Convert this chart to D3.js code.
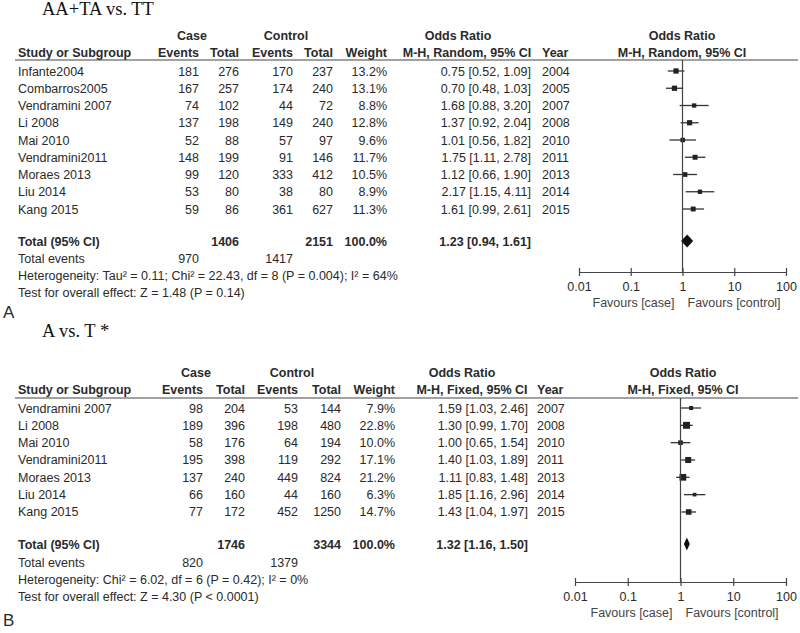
<!DOCTYPE html>
<html><head><meta charset="utf-8">
<script src="https://cdn.jsdelivr.net/npm/d3@7"></script>
<style>
html,body{margin:0;padding:0;background:#fff;}
svg text{font-family:"Liberation Sans",Arial,sans-serif;font-size:12.5px;fill:#2a2a2a;}
</style></head>
<body><svg id="chart" width="800" height="633"></svg>
<script>
// ---------- Panel A data (AA+TA vs. TT, random effects) ----------
const studiesA = ["Infante2004","Combarros2005","Vendramini 2007","Li 2008","Mai 2010","Vendramini2011","Moraes 2013","Liu 2014","Kang 2015"];
const caseEventsA = [181,167,74,137,52,148,99,53,59];
const caseTotalA = [276,257,102,198,88,199,120,80,86];
const ctrlEventsA = [170,174,44,149,57,91,333,38,361];
const ctrlTotalA = [237,240,72,240,97,146,412,80,627];
const weightA = [13.2,13.1,8.8,12.8,9.6,11.7,10.5,8.9,11.3];
const orA = [0.75,0.70,1.68,1.37,1.01,1.75,1.12,2.17,1.61];
const lowA = [0.52,0.48,0.88,0.92,0.56,1.11,0.66,1.15,0.99];
const highA = [1.09,1.03,3.20,2.04,1.82,2.78,1.90,4.11,2.61];
const yearA = [2004,2005,2007,2008,2010,2011,2013,2014,2015];
const totalA = {caseTotal:1406, ctrlTotal:2151, caseEvents:970, ctrlEvents:1417, or:1.23, low:0.94, high:1.61};

// ---------- Panel B data (A vs. T, fixed effects) ----------
const studiesB = ["Vendramini 2007","Li 2008","Mai 2010","Vendramini2011","Moraes 2013","Liu 2014","Kang 2015"];
const caseEventsB = [98,189,58,195,137,66,77];
const caseTotalB = [204,396,176,398,240,160,172];
const ctrlEventsB = [53,198,64,119,449,44,452];
const ctrlTotalB = [144,480,194,292,824,160,1250];
const weightB = [7.9,22.8,10.0,17.1,21.2,6.3,14.7];
const orB = [1.59,1.30,1.00,1.40,1.11,1.85,1.43];
const lowB = [1.03,0.99,0.65,1.03,0.83,1.16,1.04];
const highB = [2.46,1.70,1.54,1.89,1.48,2.96,1.97];
const yearB = [2007,2008,2010,2011,2013,2014,2015];
const totalB = {caseTotal:1746, ctrlTotal:3344, caseEvents:820, ctrlEvents:1379, or:1.32, low:1.16, high:1.50};

const tickValues = [0.01,0.1,1,10,100];
const tickLabels = ["0.01","0.1","1","10","100"];

const svg = d3.select("#chart");
const f2 = d3.format(".2f");
const ciText = (o,l,h) => `${f2(o)} [${f2(l)}, ${f2(h)}]`;

function panel(cfg){
  const g = svg.append("g");
  const C = cfg.cols;
  // title
  g.append("text").attr("x",42).attr("y",cfg.titleY)
    .style("font-family","'Liberation Serif','Times New Roman',serif").style("font-size","18.5px").style("fill","#111")
    .text(cfg.title);
  // header row 1
  const h1 = g.append("g").style("font-weight","bold");
  h1.append("text").attr("x",C.case).attr("y",cfg.h1Y).attr("text-anchor","middle").text("Case");
  h1.append("text").attr("x",C.control).attr("y",cfg.h1Y).attr("text-anchor","middle").text("Control");
  h1.append("text").attr("x",C.orMid).attr("y",cfg.h1Y).attr("text-anchor","middle").text("Odds Ratio");
  h1.append("text").attr("x",C.plotMid).attr("y",cfg.h1Y).attr("text-anchor","middle").text("Odds Ratio");
  // header row 2
  const h2 = g.append("g").style("font-weight","bold");
  h2.append("text").attr("x",18).attr("y",cfg.h2Y).text("Study or Subgroup");
  h2.append("text").attr("x",C.ce).attr("y",cfg.h2Y).attr("text-anchor","end").text("Events");
  h2.append("text").attr("x",C.ct).attr("y",cfg.h2Y).attr("text-anchor","end").text("Total");
  h2.append("text").attr("x",C.ke).attr("y",cfg.h2Y).attr("text-anchor","end").text("Events");
  h2.append("text").attr("x",C.kt).attr("y",cfg.h2Y).attr("text-anchor","end").text("Total");
  h2.append("text").attr("x",C.w).attr("y",cfg.h2Y).attr("text-anchor","end").text("Weight");
  h2.append("text").attr("x",C.orMH).attr("y",cfg.h2Y).attr("text-anchor","middle").text(cfg.method);
  h2.append("text").attr("x",C.year).attr("y",cfg.h2Y).text("Year");
  h2.append("text").attr("x",C.plotMid).attr("y",cfg.h2Y).attr("text-anchor","middle").text(cfg.method);
  // header rule
  g.append("line").attr("x1",15).attr("x2",798).attr("y1",cfg.lineY).attr("y2",cfg.lineY)
    .attr("stroke","#444").attr("stroke-width",1.2);

  const n = cfg.studies.length;
  const y = d3.scaleLinear().domain([0,n-1]).range([cfg.row0, cfg.row0 + (n-1)*cfg.rowH]);
  const x = d3.scaleLog().domain([0.01,100]).range(cfg.xRange);
  const idx = d3.range(n);
  const off = 4.5;
  const rows = g.selectAll("g.row").data(idx).join("g").attr("class","row");
  rows.append("text").attr("x",18).attr("y",i=>y(i)+off).text(i=>cfg.studies[i]);
  rows.append("text").attr("x",C.ce).attr("y",i=>y(i)+off).attr("text-anchor","end").text(i=>cfg.ce[i]);
  rows.append("text").attr("x",C.ct).attr("y",i=>y(i)+off).attr("text-anchor","end").text(i=>cfg.ct[i]);
  rows.append("text").attr("x",C.ke).attr("y",i=>y(i)+off).attr("text-anchor","end").text(i=>cfg.ke[i]);
  rows.append("text").attr("x",C.kt).attr("y",i=>y(i)+off).attr("text-anchor","end").text(i=>cfg.kt[i]);
  rows.append("text").attr("x",C.w).attr("y",i=>y(i)+off).attr("text-anchor","end").text(i=>cfg.w[i].toFixed(1)+"%");
  rows.append("text").attr("x",C.ci).attr("y",i=>y(i)+off).attr("text-anchor","end").text(i=>ciText(cfg.or[i],cfg.lo[i],cfg.hi[i]));
  rows.append("text").attr("x",C.year).attr("y",i=>y(i)+off).text(i=>cfg.yr[i]);

  // vertical line of no effect
  g.append("line").attr("x1",x(1)).attr("x2",x(1)).attr("y1",cfg.lineY).attr("y2",cfg.axisY)
    .attr("stroke","#444").attr("stroke-width",1.2);
  // CI lines and boxes
  rows.append("line").attr("x1",i=>x(cfg.lo[i])).attr("x2",i=>x(cfg.hi[i]))
    .attr("y1",i=>y(i)).attr("y2",i=>y(i)).attr("stroke","#333").attr("stroke-width",1.3);
  rows.append("rect").each(function(i){
    const s = Math.sqrt(cfg.w[i])*1.45;
    d3.select(this).attr("x",x(cfg.or[i])-s/2).attr("y",y(i)-s/2).attr("width",s).attr("height",s).attr("fill","#222");
  });

  // totals
  const T = cfg.total;
  const tb = g.append("g").style("font-weight","bold");
  tb.append("text").attr("x",18).attr("y",cfg.totalY+off).text("Total (95% CI)");
  tb.append("text").attr("x",C.ct).attr("y",cfg.totalY+off).attr("text-anchor","end").text(T.caseTotal);
  tb.append("text").attr("x",C.kt).attr("y",cfg.totalY+off).attr("text-anchor","end").text(T.ctrlTotal);
  tb.append("text").attr("x",C.w).attr("y",cfg.totalY+off).attr("text-anchor","end").text("100.0%");
  tb.append("text").attr("x",C.ci).attr("y",cfg.totalY+off).attr("text-anchor","end").text(ciText(T.or,T.low,T.high));
  const dh = 6.5;
  g.append("path").attr("fill","#111")
    .attr("d",`M${x(T.low)},${cfg.totalY}L${x(T.or)},${cfg.totalY-dh}L${x(T.high)},${cfg.totalY}L${x(T.or)},${cfg.totalY+dh}Z`);
  g.append("text").attr("x",18).attr("y",cfg.eventsY+off).text("Total events");
  g.append("text").attr("x",C.ce).attr("y",cfg.eventsY+off).attr("text-anchor","end").text(T.caseEvents);
  g.append("text").attr("x",C.ke).attr("y",cfg.eventsY+off).attr("text-anchor","end").text(T.ctrlEvents);
  g.append("text").attr("x",18).attr("y",cfg.hetY+off).text(cfg.het);
  g.append("text").attr("x",18).attr("y",cfg.testY+off).text(cfg.test);

  // axis
  const axis = d3.axisBottom(x).tickValues(tickValues).tickFormat((d,i)=>tickLabels[i]).tickSizeInner(4).tickSizeOuter(0);
  const ag = g.append("g").attr("transform",`translate(0,${cfg.axisY})`).call(axis);
  ag.select(".domain").attr("stroke","#444").attr("stroke-width",1.2);
  ag.selectAll(".tick line").attr("y1",-4).attr("y2",4).attr("stroke","#444").attr("stroke-width",1.2);
  ag.selectAll(".tick text").attr("y",19).attr("dy",0).style("font-size","12.5px").style("fill","#2a2a2a")
    .style("font-family","'Liberation Sans',Arial,sans-serif");
  g.append("text").attr("x",x(1)-8).attr("y",cfg.axisY+35).attr("text-anchor","end").style("fill","#444").text("Favours [case]");
  g.append("text").attr("x",x(1)+5).attr("y",cfg.axisY+35).style("fill","#444").text("Favours [control]");
  // panel letter
  g.append("text").attr("x",3).attr("y",cfg.letterY).style("font-size","17px").text(cfg.letter);
}

panel({
  title:"AA+TA vs. TT", titleY:15, h1Y:40, h2Y:57, lineY:60, row0:71, rowH:17.25,
  totalY:241, eventsY:258, hetY:275, testY:292, axisY:272, letterY:318, letter:"A",
  method:"M-H, Random, 95% CI", xRange:[579,786],
  cols:{case:192, control:286, orMid:458, plotMid:682, ce:199, ct:239, ke:293, kt:333, w:387, orMH:467, ci:531, year:542},
  studies:studiesA, ce:caseEventsA, ct:caseTotalA, ke:ctrlEventsA, kt:ctrlTotalA, w:weightA, or:orA, lo:lowA, hi:highA, yr:yearA,
  total:totalA,
  het:"Heterogeneity: Tau² = 0.11; Chi² = 22.43, df = 8 (P = 0.004); I² = 64%",
  test:"Test for overall effect: Z = 1.48 (P = 0.14)"
});
panel({
  title:"A vs. T *", titleY:337, h1Y:377, h2Y:394, lineY:398, row0:408, rowH:17.33,
  totalY:544, eventsY:562, hetY:579, testY:596, axisY:582, letterY:626, letter:"B",
  method:"M-H, Fixed, 95% CI", xRange:[575,786],
  cols:{case:196, control:292, orMid:462, plotMid:683, ce:203, ct:245, ke:298, kt:341, w:395, orMH:472, ci:528, year:537},
  studies:studiesB, ce:caseEventsB, ct:caseTotalB, ke:ctrlEventsB, kt:ctrlTotalB, w:weightB, or:orB, lo:lowB, hi:highB, yr:yearB,
  total:totalB,
  het:"Heterogeneity: Chi² = 6.02, df = 6 (P = 0.42); I² = 0%",
  test:"Test for overall effect: Z = 4.30 (P < 0.0001)"
});
</script></body></html>
